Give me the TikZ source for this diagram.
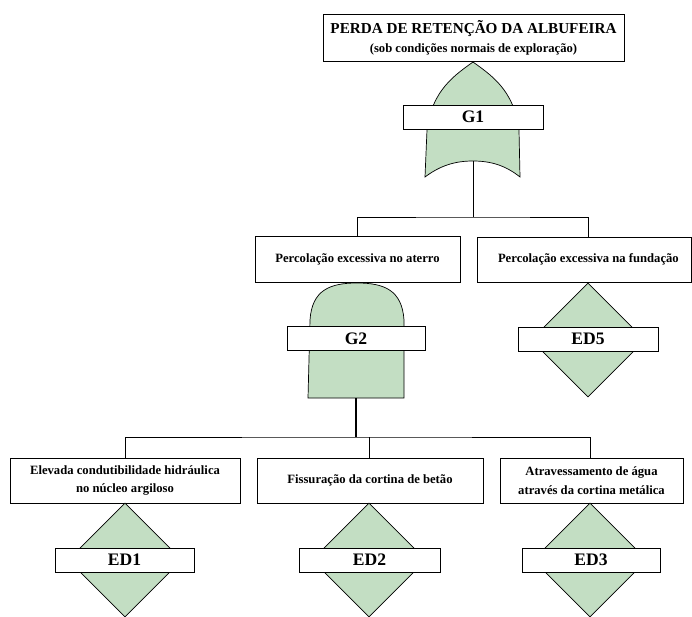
\documentclass[tikz,border=0pt]{standalone}
\usepackage{fontspec}
\setmainfont{Liberation Serif}
\usepackage{tikz}
\usetikzlibrary{arrows.meta,calc,positioning,shapes.geometric}
\definecolor{gatefill}{RGB}{195,222,195}
\tikzset{ev/.style={draw,fill=white,align=center,inner sep=2pt,font=\fontsize{9}{13.5}\selectfont\bfseries},
  lbl/.style={draw,fill=white,minimum height=0.6cm,inner sep=0pt,font=\fontsize{12.5}{14}\selectfont\bfseries},
  gate/.style={draw,fill=gatefill,line width=0.5pt}}

\begin{document}
\begin{tikzpicture}[x=0.025cm,y=-0.025cm,line width=0.6pt,
 basic/.style={diamond,draw,fill=gatefill,line width=0.5pt,inner sep=0pt,minimum width=2.85cm,minimum height=2.85cm},
 wire/.style={line width=0.6pt}]
\useasboundingbox (0,0) rectangle (692,617);
% top event and OR gate
\node[ev,minimum width=7.525cm,minimum height=1.175cm] (top) at (473.5,37.5) {{\fontsize{10.8}{13}\selectfont PERDA DE RETENÇÃO DA ALBUFEIRA}\\(sob condições normais de exploração)};
\draw[gate] (425,177) -- (427,130) .. controls (432,90) and (455,75) .. (473,62)
  .. controls (491,75) and (514,90) .. (519,130) -- (520,177)
  .. controls (505,165) and (490,161) .. (473,161) .. controls (456,161) and (441,165) .. (425,177) -- cycle;
\coordinate (g1out) at (473,161);
\node[lbl,minimum width=3.5cm] (g1) at (473,117) {G1};
% second level
\node[ev,minimum width=5.125cm,minimum height=1.15cm] (ml) at (357.5,259) {Percolação excessiva no aterro};
\node[ev,minimum width=5.35cm,minimum height=1.125cm] (mr) at (584,259.5) {\hspace*{0.22cm}Percolação excessiva na fundação};
\node[basic] (d5) at (588,340) {};
\node[lbl,minimum width=3.5cm] (ed5) at (588,339) {ED5};
% AND gate
\draw[gate] (308,398) -- (310,320) .. controls (312,290) and (330,283) .. (357,283)
  .. controls (384,283) and (402,290) .. (404,320) -- (404,398) -- cycle;
\coordinate (g2out) at (356,398);
\node[lbl,minimum width=3.45cm] (g2) at (356,338.5) {G2};
% basic events
\node[ev,minimum width=5.75cm,minimum height=1.125cm] (b1) at (125,480.5) {Elevada condutibilidade hidráulica\\no núcleo argiloso};
\node[ev,minimum width=5.65cm,minimum height=1.125cm] (b2) at (370,480.5) {Fissuração da cortina de betão};
\node[ev,minimum width=4.575cm,minimum height=1.125cm] (b3) at (591.5,480.5) {Atravessamento de água\\através da cortina metálica};
\node[basic] (d1) at (125,560) {};
\node[basic] (d2) at (369,560) {};
\node[basic] (d3) at (590,560) {};
\node[lbl,minimum width=3.475cm] (ed1) at (124.5,560) {ED1};
\node[lbl,minimum width=3.525cm] (ed2) at (369.5,560) {ED2};
\node[lbl,minimum width=3.45cm] (ed3) at (591,560) {ED3};
% connectors
\draw[wire] (g1out) -- ++(0,56) coordinate (j1);
\draw[wire] (ml.north) |- (j1) -| (d5 |- mr.north);
\draw[line width=1.1pt] (g2out) -- ++(0,39) coordinate (j2);
\draw[wire] (d1 |- b1.north) |- (j2) -| (d3 |- b3.north);
\draw[wire] (d2 |- b2.north) -- (d2 |- j2);
\end{tikzpicture}
\end{document}
